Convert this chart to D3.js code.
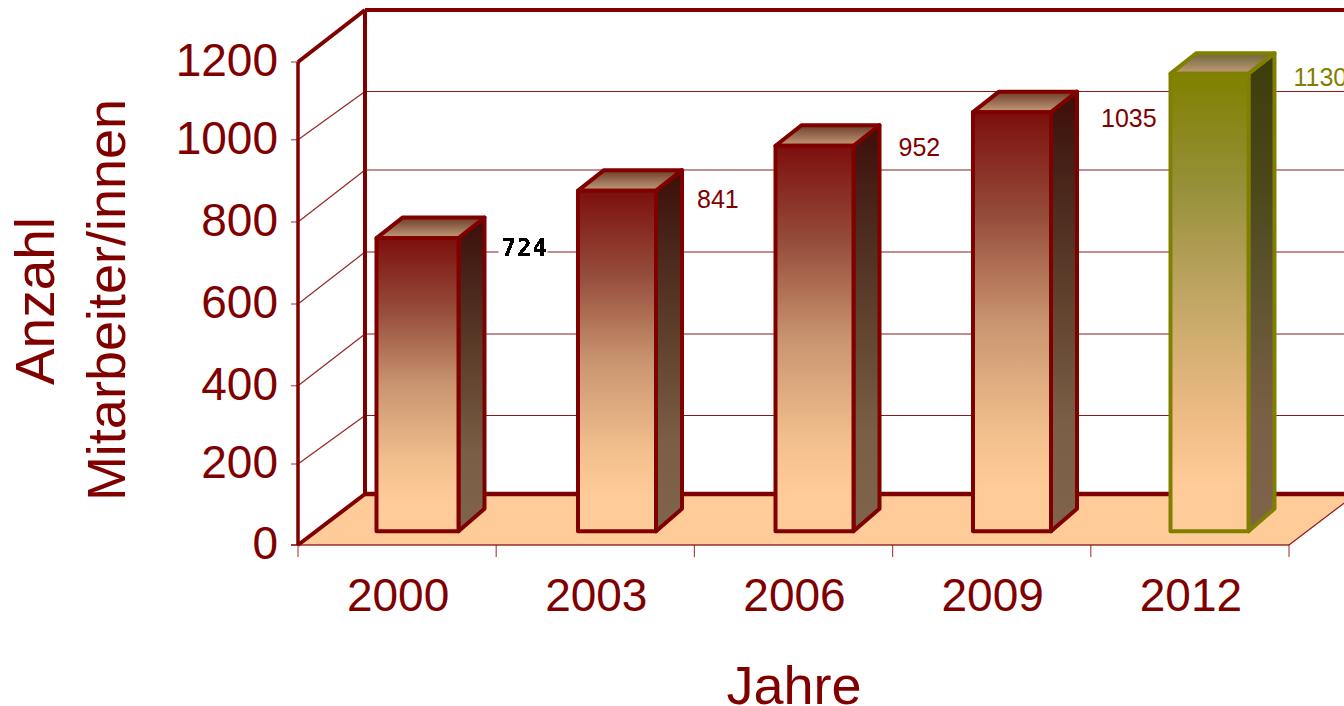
<!DOCTYPE html>
<html><head><meta charset="utf-8">
<script src="https://cdn.jsdelivr.net/npm/d3@7/dist/d3.min.js"></script>
<style>html,body{margin:0;padding:0;background:#fff;overflow:hidden}svg{display:block}text{font-family:"Liberation Sans",Arial,sans-serif}</style>
</head><body><svg id="c" width="1344" height="706"></svg>
<script>
const categories = ["2000","2003","2006","2009","2012"];
const values = [724,841,952,1035,1130];
const yTicks = [0,200,400,600,800,1000,1200];
const yTitle = ["Anzahl","Mitarbeiter/innen"];
const xTitle = "Jahre";

const RED="#800000", OLIVE="#808000", FLOOR="#FFCC99";
const svg=d3.select("#c"), defs=svg.append("defs");

// front edge and back wall scales (the source chart's grid is slightly uneven)
const y=d3.scaleLinear().domain(yTicks).range([545,464,385.7,304,222,139.7,62]);
const yBack=d3.scaleLinear().domain(yTicks).range([494,415.5,334,252,170,91.5,10]);
const x=d3.scaleBand().domain(categories).range([298,1289]);
const wallDx=67;
// bars stand a little inside the floor
const barBase=531.3, barPerUnit=0.405;
const h=d3.scaleLinear().domain([0,1200]).range([barBase,barBase-1200*barPerUnit]);
const barRight=d3.scalePoint().domain(categories).range([458.5,1248.5]);
const barW=[82,78,78,78,78], side={x:26,top:-20.5,bottom:-22.5};
const labelDx=[43,41,45,50,45], labelDy=[10,8,1,6,5];

function grad(id,stops){
  const g=defs.append("linearGradient").attr("id",id).attr("x1",0).attr("y1",0).attr("x2",0).attr("y2",1);
  stops.forEach(s=>g.append("stop").attr("offset",s[0]).attr("stop-color",s[1]));
}
grad("fr",[[0,"#7c0f0d"],[.25,"#964d3b"],[.5,"#c99470"],[.75,"#f0bd8c"],[.9,FLOOR],[1,FLOOR]]);
grad("fo",[[0,"#808000"],[.25,"#97903a"],[.5,"#c3a766"],[.75,"#eebb85"],[.9,FLOOR],[1,FLOOR]]);
grad("sr",[[0,"#3c0e08"],[.25,"#4c2a1e"],[.5,"#62442f"],[.75,"#7a5e45"],[1,"#80634b"]]);
grad("so",[[0,"#3c3c0a"],[.25,"#4a4618"],[.5,"#5f5430"],[.75,"#7a5e45"],[1,"#80634b"]]);
grad("tr",[[0,"#6e3c2a"],[1,"#c49d79"]]);
grad("to",[[0,"#6e6438"],[1,"#c49d79"]]);
const f=defs.append("filter").attr("id","alias").attr("x","-5%").attr("y","-5%").attr("width","110%").attr("height","110%")
  .attr("color-interpolation-filters","sRGB");
f.append("feComponentTransfer").append("feFuncA").attr("type","discrete").attr("tableValues","0 1 1");

const x0=x.range()[0], x1=x.range()[1], wx=x0+wallDx;
// floor
svg.append("polygon").attr("fill",FLOOR)
  .attr("points",[[x0,y(0)],[x1,y(0)],[x1+wallDx,yBack(0)],[wx,yBack(0)]].join(" "));

const line=(a,b,c,d,w,op=1)=>svg.append("line").attr("x1",a).attr("y1",b).attr("x2",c).attr("y2",d)
  .attr("stroke",RED).attr("stroke-width",w).attr("stroke-opacity",op);

// gridlines
yTicks.slice(1,-1).forEach(t=>{
  line(x0,y(t),wx,yBack(t),1.2,.85);
  line(wx,yBack(t),1344,yBack(t),1.2,.9);
});
// floor front edge and ticks
line(x0-7,y(0),x1,y(0),1.5,.8);
line(x1,y(0),x1+wallDx,yBack(0),1.2,.9);
yTicks.forEach(t=>line(x0-7,y(t),x0,y(t),1.5,.55));
[...categories.map(c=>x(c)),x1].forEach(p=>line(p,y(0),p,y(0)+12,1.2,.7));
// heavy wall frame
line(x0,y(1200),x0,y(0),3.5);
line(wx,yBack(1200),wx,yBack(0),4);
line(wx,yBack(1200),1344,yBack(1200),4);
line(x0,y(1200),wx,yBack(1200),4);
line(x0,y(0),wx,yBack(0),4);
line(wx,yBack(0),1344,yBack(0),4.5);

// bars
categories.forEach((c,i)=>{
  const v=values[i], last=i===categories.length-1, col=last?OLIVE:RED, k=last?"o":"r";
  const R=barRight(c), L=R-barW[i], T=h(v), B=h(0);
  const g=svg.append("g").attr("stroke",col).attr("stroke-width",4).attr("stroke-linejoin","round");
  g.append("polygon").attr("fill",`url(#s${k})`)
    .attr("points",[[R,T],[R+side.x,T+side.top],[R+side.x,B+side.bottom],[R,B]].join(" "));
  g.append("polygon").attr("fill",`url(#t${k})`)
    .attr("points",[[L,T],[L+side.x,T+side.top],[R+side.x,T+side.top],[R,T]].join(" "));
  g.append("rect").attr("x",L).attr("y",T).attr("width",barW[i]).attr("height",B-T).attr("fill",`url(#f${k})`);
  const lx=R+labelDx[i], ly=T+labelDy[i];
  if(i===0){
    svg.append("rect").attr("x",lx-3).attr("y",ly-11).attr("width",49).attr("height",21).attr("fill","#fff");
    svg.append("text").attr("x",lx).attr("y",ly+8).attr("font-size",24).attr("font-weight","bold")
      .attr("filter","url(#alias)")
      .style("font-family","'DejaVu Sans Mono',monospace").attr("letter-spacing",1).attr("fill","#000").text(v);
  } else {
    svg.append("text").attr("x",lx).attr("y",ly+(last?7:9)).attr("font-size",25).attr("fill",col).text(v);
  }
});

// tick labels
yTicks.forEach(t=>svg.append("text").attr("x",278).attr("y",y(t)+14).attr("text-anchor","end")
  .attr("font-size",46).attr("fill",RED).text(t));
categories.forEach(c=>svg.append("text").attr("x",x(c)+x.bandwidth()/2+1).attr("y",611).attr("text-anchor","middle")
  .attr("font-size",46).attr("fill",RED).text(c));
// titles
svg.append("text").attr("x",794).attr("y",704).attr("text-anchor","middle").attr("font-size",54).attr("fill",RED).text(xTitle);
[[54,yTitle[0],301,55],[125,yTitle[1],300,54]].forEach(([px,s,py,fs])=>svg.append("text").attr("transform",`translate(${px},${py}) rotate(-90)`)
  .attr("text-anchor","middle").attr("font-size",fs).attr("fill",RED).text(s));
</script></body></html>
